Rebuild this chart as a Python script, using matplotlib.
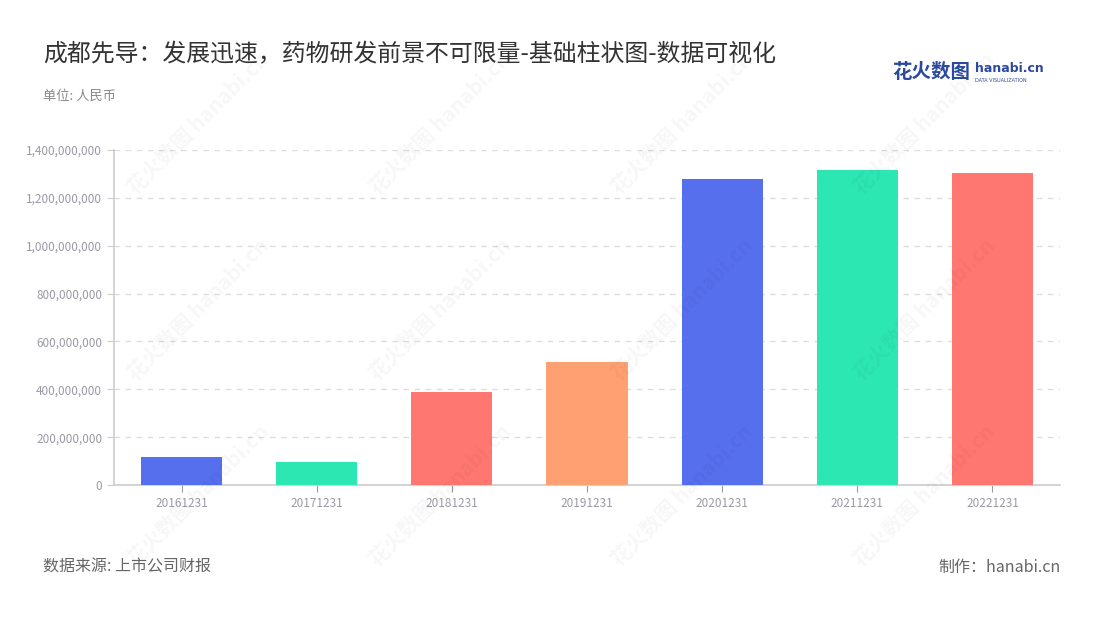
import matplotlib
matplotlib.use('Agg')
import matplotlib.pyplot as plt
from matplotlib.ticker import FuncFormatter

plt.rcParams['font.family'] = ['Noto Sans CJK SC', 'DejaVu Sans']

dates = ['20161231', '20171231', '20181231', '20191231', '20201231', '20211231', '20221231']
values = [117e6, 95e6, 389e6, 513e6, 1277e6, 1316e6, 1302e6]
colors = ['#566FEC', '#2DE7B2', '#FF7770', '#FFA072', '#566FEC', '#2DE7B2', '#FF7770']

fig = plt.figure(figsize=(11, 6.2), dpi=100)
ax = fig.add_axes([114/1100, 1 - 485/620, 946/1100, 335/620])

x = range(len(dates))
ax.bar(x, values, width=0.6, color=colors, zorder=3)

ax.set_xlim(-0.5, len(dates) - 0.5)
ax.set_ylim(0, 1.4e9)
ax.set_yticks([i * 2e8 for i in range(8)])
ax.yaxis.set_major_formatter(FuncFormatter(lambda v, p: '{:,.0f}'.format(v)))
ax.set_xticks(list(x))
ax.set_xticklabels(dates)

ax.grid(axis='y', linestyle=(0, (4, 4)), color='#dddddd', linewidth=1, zorder=0)
for s in ['top', 'right']:
    ax.spines[s].set_visible(False)
ax.spines['left'].set_color('#cccccc')
ax.spines['bottom'].set_color('#cccccc')
ax.spines['left'].set_linewidth(1.2)
ax.spines['bottom'].set_linewidth(1.2)
ax.tick_params(axis='y', colors='#cccccc', labelcolor='#9a9aa6', labelsize=8.5, length=5)
ax.tick_params(axis='x', colors='#999999', labelcolor='#9a9aa6', labelsize=8.5, length=5)

# watermark
for wx in [0.18, 0.40, 0.62, 0.84]:
    for wy in [0.80, 0.50, 0.20]:
        fig.text(wx, wy, '花火数图 hanabi.cn', rotation=45, fontsize=15, color='#000000',
                 alpha=0.035, ha='center', va='center', fontweight='bold')

fig.text(43/1100, 1 - 55/620, '成都先导：发展迅速，药物研发前景不可限量-基础柱状图-数据可视化',
         fontsize=17.2, color='#333333', va='center')
fig.text(43/1100, 1 - 96/620, '单位: 人民币', fontsize=9.5, color='#888888', va='center')
fig.text(892/1100, 1 - 72/620, '花火数图', fontsize=14, color='#2B4A9E', va='center', fontweight='bold')
fig.text(975/1100, 1 - 69/620, 'hanabi.cn', fontsize=9, color='#2B4A9E', va='center', fontweight='bold',
         family='DejaVu Sans')
fig.text(975/1100, 1 - 80/620, 'DATA VISUALIZATION', fontsize=3.5, color='#2B4A9E', va='center',
         family='DejaVu Sans')
fig.text(43/1100, 1 - 567/620, '数据来源: 上市公司财报', fontsize=11.5, color='#666666', va='center')
fig.text(1061/1100, 1 - 567/620, '制作：hanabi.cn', fontsize=11.5, color='#666666', va='center', ha='right')

fig.savefig('out.png', dpi=100)
